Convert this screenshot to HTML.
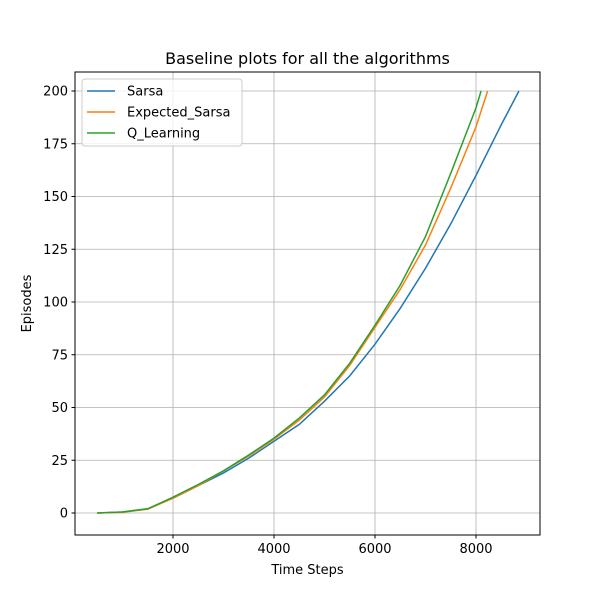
<!DOCTYPE html>
<html><head><meta charset="utf-8"><style>
body{margin:0;background:#fff;font-family:"Liberation Sans","DejaVu Sans",sans-serif;}
svg text{font-family:"DejaVu Sans","Liberation Sans",sans-serif;}
</style></head><body>
<svg id="chart" width="600" height="600" xmlns="http://www.w3.org/2000/svg">
<rect width="600" height="600" fill="#fff"/>
<g id="grid"></g>
<g id="series"></g>
<rect x="75" y="72" width="465" height="463" fill="none" stroke="#000" stroke-width="1"/>
<g id="ticks"></g>
<text x="307.5" y="64" text-anchor="middle" font-size="16">Baseline plots for all the algorithms</text>
<text x="307.5" y="574" text-anchor="middle" font-size="13">Time Steps</text>
<text x="31" y="303.5" text-anchor="middle" font-size="13" transform="rotate(-90 31 303.5)">Episodes</text>
<g id="legend">
<rect x="82" y="79" width="160" height="67" rx="3" fill="#fff" fill-opacity="0.8" stroke="#ccc"/>
</g>
</svg>
<script>
const xTicks=[2000,4000,6000,8000];
const yTicks=[0,25,50,75,100,125,150,175,200];
const seriesNames=["Sarsa","Expected_Sarsa","Q_Learning"];
const seriesColors=["#1f77b4","#ff7f0e","#2ca02c"];
const sarsaX=[500,1000,1500,2000,2500,3000,3500,4000,4500,5000,5500,6000,6500,7000,7500,8000,8500,8850];
const sarsaY=[0,0.5,2,7,13,19,26,34,42,53,65,80,97,116,137,160,184,200];
const expX=[500,1000,1500,2000,2500,3000,3500,4000,4500,5000,5500,6000,6500,7000,7500,8000,8230];
const expY=[0,0.3,1.8,7,13,20,27,35,44,55,70,88,106,127,154,183,200];
const qX=[500,1000,1500,2000,2500,3000,3500,4000,4500,5000,5500,6000,6500,7000,7500,8000,8100];
const qY=[0,0.5,2,7.5,13.5,20,27.5,35.5,45,56,71,89,108,131,161,192,200];
const xs=v=>72+v*0.0505, ys=v=>513-v*2.11;
const NS="http://www.w3.org/2000/svg";
const grid=document.getElementById('grid'),ticks=document.getElementById('ticks');
function mk(tag,attrs,parent){const e=document.createElementNS(NS,tag);for(const k in attrs)e.setAttribute(k,attrs[k]);parent.appendChild(e);return e;}
xTicks.forEach(t=>{const x=xs(t);
 const g=mk('line',{x1:x,x2:x,y1:72,y2:535,stroke:'#b0b0b0','stroke-width':0.8},grid);
 
 
 mk('line',{x1:x,x2:x,y1:535,y2:538.5,stroke:'#000'},ticks);
 const l=mk('text',{x:x,y:553,'text-anchor':'middle','font-size':13},ticks);l.textContent=t;
 
 });
yTicks.forEach(t=>{const y=ys(t);
 const g=mk('line',{x1:75,x2:540,y1:y,y2:y,stroke:'#b0b0b0','stroke-width':0.8},grid);
 
 
 mk('line',{x1:71.5,x2:75,y1:y,y2:y,stroke:'#000'},ticks);
 const l=mk('text',{x:68,y:y+4.5,'text-anchor':'end','font-size':13},ticks);l.textContent=t;
 
 });
const data=[[sarsaX,sarsaY],[expX,expY],[qX,qY]];
const sg=document.getElementById('series'),lg=document.getElementById('legend');
data.forEach((d,i)=>{const pts=d[0].map((x,j)=>xs(x)+','+ys(d[1][j])).join(' ');
 const p=mk('polyline',{points:pts,fill:'none',stroke:seriesColors[i],'stroke-width':1.5},sg);
 
 
 const y=91+i*21;
 mk('line',{x1:87,x2:115,y1:y,y2:y,stroke:seriesColors[i],'stroke-width':1.5},lg);
 const t=mk('text',{x:127,y:y+4.5,'font-size':13},lg);t.textContent=seriesNames[i];
 
 });
</script>
</body></html>
